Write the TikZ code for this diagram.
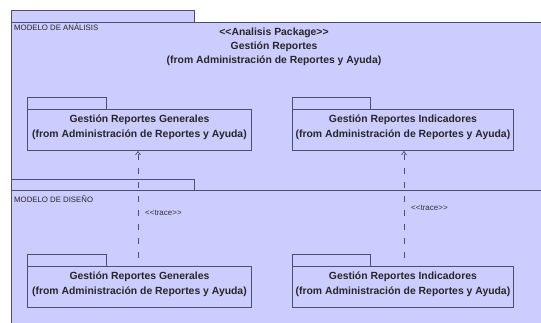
\documentclass[tikz,border=0pt]{standalone}
\usepackage{fontspec}
\setmainfont{Liberation Sans}
\usetikzlibrary{arrows.meta}
\definecolor{pkgfill}{HTML}{CCCCFF}
\definecolor{pkgline}{HTML}{4E4E6E}
\newcommand{\guil}[1]{<{}<#1>{}>}
\begin{document}
\begin{tikzpicture}[x=1pt,y=-1pt,
  pkgbox/.style={draw=pkgline,fill=pkgfill,line width=0.9pt,inner sep=0pt,
    minimum width=224pt,minimum height=41pt},
  pkgname/.style={font=\bfseries\fontsize{10.4}{15}\selectfont,align=center,
    text=black!85,inner sep=0pt},
  modelname/.style={font=\fontsize{7.8}{8}\selectfont,anchor=north west,inner sep=0pt,
    text=black!85},
  tracelabel/.style={font=\fontsize{8}{9}\selectfont,anchor=west,inner sep=0pt,
    text=black!80},
  tracelink/.style={draw=pkgline,line width=0.8pt,dash pattern=on 6pt off 8pt,
    -{Straight Barb[length=3.5pt,width=5pt,line width=0.7pt]}}]
\useasboundingbox (0,0) rectangle (541,322);
\fill[white] (0,0) rectangle (541,322);

% analysis model package: tab and body running off the page
\filldraw[fill=pkgfill,draw=pkgline,line width=0.9pt] (11,10) rectangle (194,22);
\fill[pkgfill] (11,22) rectangle (545,326);
\draw[pkgline,line width=0.9pt] (545,22) -- (11,22) -- (11,326);
\node[modelname] (ma) at (14,23.5) {MODELO DE ANÁLISIS};
\node[pkgname,font=\bfseries\fontsize{10.4}{14}\selectfont] (title) at (274,47) {\guil{Analisis Package}\\Gestión Reportes\\(from Administración de Reportes y Ayuda)};

% design model package: tab and top edge
\filldraw[fill=pkgfill,draw=pkgline,line width=0.9pt] (11,179) rectangle (194,190);
\draw[pkgline,line width=0.9pt] (11,190) -- (545,190);
\node[modelname] (md) at (14,195) {MODELO DE DISEÑO};

% analysis packages
\filldraw[fill=pkgfill,draw=pkgline,line width=0.9pt] (27,97) rectangle (106,109);
\node[pkgbox,anchor=north west] (ag) at (27,109) {};
\node[pkgname] at ([yshift=3pt]ag.center) {Gestión Reportes Generales\\(from Administración de Reportes y Ayuda)};
\filldraw[fill=pkgfill,draw=pkgline,line width=0.9pt] (292,97) rectangle (370,109);
\node[pkgbox,anchor=north west,minimum width=221pt] (ai) at (292,109) {};
\node[pkgname] at ([yshift=3pt]ai.center) {Gestión Reportes Indicadores\\(from Administración de Reportes y Ayuda)};

% design packages
\filldraw[fill=pkgfill,draw=pkgline,line width=0.9pt] (27,254) rectangle (106,266);
\node[pkgbox,anchor=north west] (dg) at (27,266) {};
\node[pkgname] at ([yshift=3pt]dg.center) {Gestión Reportes Generales\\(from Administración de Reportes y Ayuda)};
\filldraw[fill=pkgfill,draw=pkgline,line width=0.9pt] (292,254) rectangle (370,266);
\node[pkgbox,anchor=north west,minimum width=221pt] (di) at (292,266) {};
\node[pkgname] at ([yshift=3pt]di.center) {Gestión Reportes Indicadores\\(from Administración de Reportes y Ayuda)};

% trace dependencies
\coordinate (dgt) at (138,258);
\coordinate (dit) at (404,258);
\draw[tracelink] (dgt) -- (ag.south -| dgt);
\draw[tracelink] (dit) -- (ai.south -| dit);
\node[tracelabel] (t1) at (145,213) {\guil{trace}};
\node[tracelabel] (t2) at (411,208) {\guil{trace}};
\end{tikzpicture}
\end{document}
